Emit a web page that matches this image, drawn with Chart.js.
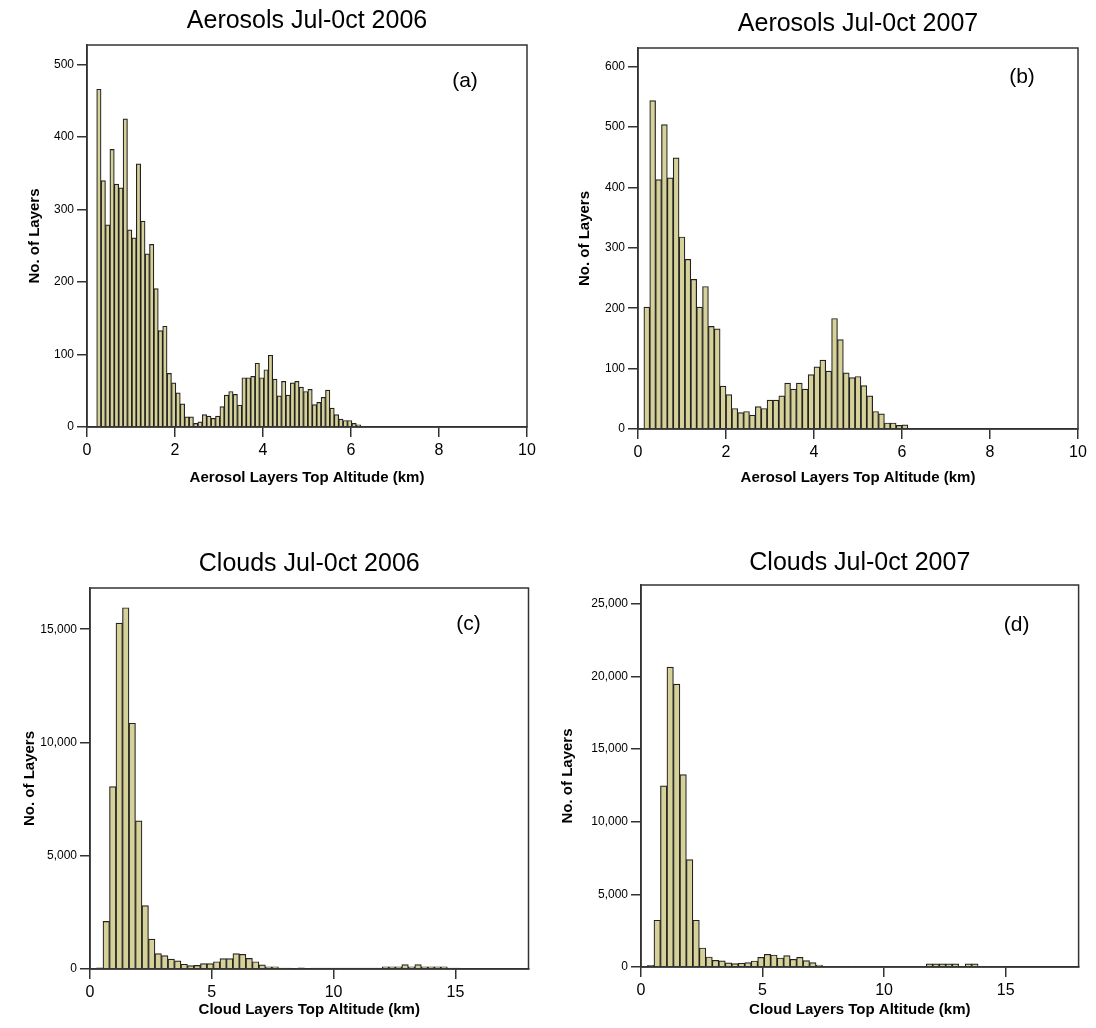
<!DOCTYPE html>
<html>
<head>
<meta charset="utf-8">
<script src="https://cdn.jsdelivr.net/npm/chart.js@4.4.0/dist/chart.umd.min.js"></script>
<style>
  body { margin: 0; background: #fff; }
  .panel { position: absolute; width: 548px; height: 514px; }
</style>
</head>
<body>
<div class="panel" style="left:0;top:0"><canvas id="chartA" width="548" height="514"></canvas></div>
<div class="panel" style="left:548px;top:0"><canvas id="chartB" width="548" height="514"></canvas></div>
<div class="panel" style="left:0;top:514px"><canvas id="chartC" width="548" height="514"></canvas></div>
<div class="panel" style="left:548px;top:514px"><canvas id="chartD" width="548" height="514"></canvas></div>
<script>
// DATOS (number of layers per altitude bin)

// (a) Aerosols 2006, bins of 0.1 km from 0.22 km
const aerosol2006Start = 0.22;
const aerosol2006Width = 0.1;
const aerosol2006 = [466, 340, 279, 383, 335, 330, 425, 272, 261, 363, 284, 239, 252, 191, 133, 139,
  74, 61, 47, 32, 14, 14, 5, 7, 17, 15, 12, 15, 28, 44, 49, 45, 30, 68, 68, 70, 88, 68, 79, 99,
  66, 43, 63, 44, 61, 63, 55, 49, 52, 31, 34, 41, 51, 26, 17, 11, 9, 9, 5, 3, 1];

// (b) Aerosols 2007, bins of 2/15 km from 0.133 km
const aerosol2007Start = 2 / 15;
const aerosol2007Width = 2 / 15;
const aerosol2007 = [202, 544, 413, 504, 416, 449, 318, 281, 248, 202, 236, 170, 166, 71, 57, 34,
  27, 29, 23, 37, 34, 48, 48, 55, 76, 66, 76, 66, 90, 103, 114, 96, 183, 148, 93, 85, 87, 72,
  55, 29, 25, 10, 10, 6, 7];

// (c) Clouds 2006, bins of 4/15 km from 0.267 km
const cloud2006Start = 4 / 15;
const cloud2006Width = 4 / 15;
const cloud2006 = [50, 2100, 8050, 15270, 15950, 10850, 6540, 2800, 1320, 680, 590, 440, 360, 210,
  150, 160, 235, 235, 320, 460, 460, 680, 650, 470, 320, 180, 100, 100, 40, 40, 0, 50, 0,
  40, 40, 40, 40, 40, 40, 40, 40, 40, 40, 40, 100, 100, 100, 190, 100, 190, 100, 100, 100, 100, 40, 40];

// (d) Clouds 2007, same bins as (c)
const cloud2007Start = 4 / 15;
const cloud2007Width = 4 / 15;
const cloud2007 = [115, 3220, 12470, 20650, 19480, 13250, 7400, 3220, 1310, 690, 460, 420, 290, 230,
  260, 300, 414, 667, 874, 828, 621, 782, 529, 667, 437, 299, 138,
  50, 50, 50, 50, 50, 50, 50, 50, 50, 50, 50, 50, 50, 50, 50, 50,
  220, 220, 220, 220, 220, 50, 220, 220, 50, 50, 50, 50];

// tick labels
const xTicksAerosol = [0, 2, 4, 6, 8, 10];
const xTicksNube = [0, 5, 10, 15];
const yTicksA = [0, 100, 200, 300, 400, 500];
const yTicksB = [0, 100, 200, 300, 400, 500, 600];
const yTicksC = [0, 5000, 10000, 15000];
const yTicksD = [0, 5000, 10000, 15000, 20000, 25000];

const titulos = ['Aerosols Jul-0ct 2006', 'Aerosols Jul-0ct 2007', 'Clouds Jul-0ct 2006', 'Clouds Jul-0ct 2007'];
const letras = ['(a)', '(b)', '(c)', '(d)'];
const tituloAerosol = 'Aerosol Layers Top Altitude (km)';
const tituloNube = 'Cloud Layers Top Altitude (km)';
const tituloY = 'No. of Layers';

// bin centres for the linear x axis
function puntos(valores, inicio, ancho) {
  return valores.map((v, i) => ({ x: inicio + ancho * (i + 0.5), y: v }));
}

function fijarTicks(lista) {
  return s => { s.ticks = lista.map(v => ({ value: v })); };
}

// frame round the plot area + panel letter
const marco = {
  id: 'marco',
  afterDraw(chart, args, opts) {
    const ctx = chart.ctx;
    const a = chart.chartArea;
    ctx.save();
    ctx.strokeStyle = '#333';
    ctx.lineWidth = 1.5;
    ctx.strokeRect(a.left, a.top, a.right - a.left, a.bottom - a.top);
    ctx.fillStyle = '#000';
    ctx.font = '21px "Liberation Sans"';
    ctx.textAlign = 'center';
    ctx.textBaseline = 'middle';
    ctx.fillText(opts.letra, a.right - opts.dx, a.top + opts.dy);
    ctx.restore();
  }
};

Chart.defaults.font.family = '"Liberation Sans", Arial, sans-serif';
Chart.defaults.color = '#000';

function crearHistograma(canvasId, p) {
  const ctx = document.getElementById(canvasId).getContext('2d');
  return new Chart(ctx, {
    type: 'bar',
    data: {
      datasets: [{
        data: p.datos,
        backgroundColor: 'rgb(214, 209, 152)',
        borderColor: '#222',
        borderWidth: 1.2,
        barPercentage: 1,
        categoryPercentage: 1
      }]
    },
    options: {
      responsive: false,
      animation: false,
      layout: { padding: { left: 0, right: p.derecha, top: 0, bottom: 0 } },
      plugins: {
        legend: { display: false },
        tooltip: { enabled: false },
        title: {
          display: true,
          fullSize: false,
          text: p.titulo,
          font: { size: 25, weight: 'normal' },
          padding: { top: p.tituloArriba, bottom: p.tituloAbajo }
        },
        marco: { letra: p.letra, dx: p.letraX, dy: p.letraY }
      },
      scales: {
        x: {
          type: 'linear',
          min: 0,
          max: p.xMax,
          offset: false,
          afterFit: s => { s.height = p.altoX; },
          afterBuildTicks: fijarTicks(p.xTicks),
          ticks: { font: { size: 16 }, padding: 4, maxRotation: 0 },
          grid: { offset: false, drawOnChartArea: false, tickLength: 10, color: '#333', lineWidth: 1.5 },
          border: { color: '#333', width: 1.5 },
          title: { display: true, text: p.tituloX, font: { size: 15, weight: 'bold' }, padding: { top: 0, bottom: p.tituloXAbajo } }
        },
        y: {
          min: 0,
          max: p.yMax,
          afterFit: s => { s.width = p.anchoY; },
          afterBuildTicks: fijarTicks(p.yTicks),
          ticks: {
            font: { size: 12 },
            padding: 3,
            callback: v => v.toLocaleString('en-US')
          },
          grid: { drawOnChartArea: false, tickLength: 10, color: '#333', lineWidth: 1.5 },
          border: { color: '#333', width: 1.5 },
          title: { display: true, text: tituloY, font: { size: 15, weight: 'bold' }, padding: { top: p.tituloYIzq, bottom: 0 } }
        }
      }
    },
    plugins: [marco]
  });
}

// Crear graficos
crearHistograma('chartA', {
  datos: puntos(aerosol2006, aerosol2006Start, aerosol2006Width),
  titulo: titulos[0], letra: letras[0], letraX: 62, letraY: 36,
  tituloArriba: 6, tituloAbajo: 9,
  xMax: 10, xTicks: xTicksAerosol, yMax: 527, yTicks: yTicksA,
  anchoY: 87, altoX: 87, derecha: 21,
  tituloX: tituloAerosol, tituloXAbajo: 27, tituloYIzq: 26
});

crearHistograma('chartB', {
  datos: puntos(aerosol2007, aerosol2007Start, aerosol2007Width),
  titulo: titulos[1], letra: letras[1], letraX: 56, letraY: 29,
  tituloArriba: 9, tituloAbajo: 9,
  xMax: 10, xTicks: xTicksAerosol, yMax: 631, yTicks: yTicksB,
  anchoY: 90, altoX: 85, derecha: 18,
  tituloX: tituloAerosol, tituloXAbajo: 27, tituloYIzq: 28
});

crearHistograma('chartC', {
  datos: puntos(cloud2006, cloud2006Start, cloud2006Width),
  titulo: titulos[2], letra: letras[2], letraX: 60, letraY: 36,
  tituloArriba: 35, tituloAbajo: 9,
  xMax: 18, xTicks: xTicksNube, yMax: 16820, yTicks: yTicksC,
  anchoY: 90, altoX: 59, derecha: 19.5,
  tituloX: tituloNube, tituloXAbajo: 9, tituloYIzq: 21
});

crearHistograma('chartD', {
  datos: puntos(cloud2007, cloud2007Start, cloud2007Width),
  titulo: titulos[3], letra: letras[3], letraX: 62, letraY: 40,
  tituloArriba: 34, tituloAbajo: 7,
  xMax: 18, xTicks: xTicksNube, yMax: 26300, yTicks: yTicksD,
  anchoY: 93, altoX: 61, derecha: 17.4,
  tituloX: tituloNube, tituloXAbajo: 9, tituloYIzq: 11
});
</script>
</body>
</html>
